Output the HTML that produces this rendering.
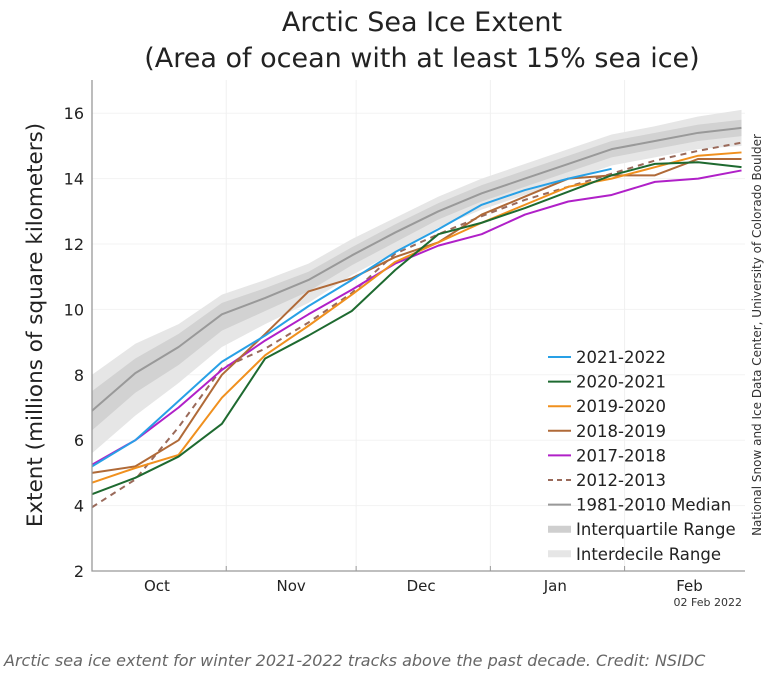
<!DOCTYPE html>
<html><head><meta charset="utf-8"><style>
body{margin:0;background:#fff;width:772px;height:669px;overflow:hidden;font-family:"DejaVu Sans",sans-serif}
</style></head><body>
<svg id="chart" width="772" height="669" xmlns="http://www.w3.org/2000/svg" style="font-family:'DejaVu Sans',sans-serif">
<text x="422" y="31" text-anchor="middle" font-size="27" fill="#222">Arctic Sea Ice Extent</text>
<text x="422" y="67" text-anchor="middle" font-size="27" fill="#222">(Area of ocean with at least 15% sea ice)</text>
<text transform="translate(42,325) rotate(-90)" text-anchor="middle" font-size="21.5" fill="#222">Extent (millions of square kilometers)</text>
<text transform="translate(761,335) rotate(-90)" text-anchor="middle" font-size="12" fill="#333">National Snow and Ice Data Center, University of Colorado Boulder</text>
<text x="742" y="606" text-anchor="end" font-size="11" fill="#333">02 Feb 2022</text>
<text x="4" y="666" font-size="16" font-style="italic" fill="#666">Arctic sea ice extent for winter 2021-2022 tracks above the past decade. Credit: NSIDC</text>
<g id="grid"></g><g id="bands"></g><g id="lines"></g><g id="axes"></g><g id="legend"></g>
</svg>
<script>
const days=[0,10,20,30,40,50,60,70,80,90,100,110,120,130,140,150];
const median=[6.9,8.05,8.85,9.85,10.35,10.9,11.65,12.35,13.0,13.55,14.0,14.45,14.9,15.15,15.4,15.55];
const decLow=[5.6,6.75,7.75,8.85,9.55,10.2,11.05,11.75,12.5,13.05,13.5,13.95,14.4,14.65,14.9,15.0];
const decHigh=[8.0,8.95,9.55,10.45,10.9,11.4,12.15,12.8,13.45,14.0,14.45,14.9,15.35,15.6,15.9,16.1];
const iqrLow=[6.3,7.45,8.3,9.35,9.95,10.55,11.35,12.05,12.75,13.3,13.75,14.2,14.65,14.9,15.15,15.3];
const iqrHigh=[7.5,8.5,9.25,10.2,10.65,11.15,11.9,12.6,13.25,13.8,14.25,14.7,15.15,15.4,15.65,15.8];
const s2122=[5.2,6.0,7.2,8.4,9.2,10.1,10.9,11.75,12.45,13.2,13.65,14.0,14.3,null,null,null];
const s2021=[4.35,4.85,5.5,6.5,8.5,9.2,9.95,11.2,12.3,12.65,13.1,13.6,14.1,14.45,14.5,14.35];
const s1920=[4.7,5.15,5.55,7.3,8.6,9.5,10.45,11.45,12.05,12.65,13.2,13.75,14.0,14.35,14.7,14.8];
const s1819=[5.0,5.2,6.0,8.0,9.25,10.55,10.95,11.6,12.05,12.9,13.45,14.0,14.1,14.1,14.6,14.6];
const s1718=[5.25,6.0,7.0,8.15,9.05,9.85,10.6,11.4,11.95,12.3,12.9,13.3,13.5,13.9,14.0,14.25];
const s1213=[3.95,4.8,6.4,8.2,8.8,9.6,10.5,11.7,12.3,12.85,13.35,13.75,14.15,14.55,14.85,15.1];
const yTicks=[2,4,6,8,10,12,14,16];
const monthLabels=["Oct","Nov","Dec","Jan","Feb"];
const monthStarts=[0,31,61,92,123];
const legendLabels=["2021-2022","2020-2021","2019-2020","2018-2019","2017-2018","2012-2013","1981-2010 Median","Interquartile Range","Interdecile Range"];
const NS="http://www.w3.org/2000/svg";
const X0=92,XPD=4.33,Y0=571,YPU=32.7;
const xs=d=>X0+d*XPD, ys=v=>Y0-(v-2)*YPU;
function mk(tag,attrs,parent){const e=document.createElementNS(NS,tag);for(const k in attrs)e.setAttribute(k,attrs[k]);parent.appendChild(e);return e;}
const grid=document.getElementById('grid'),bands=document.getElementById('bands'),lines=document.getElementById('lines'),axes=document.getElementById('axes'),legend=document.getElementById('legend');
yTicks.forEach(t=>{
 const g=mk('line',{x1:X0,x2:745,y1:ys(t),y2:ys(t),stroke:'#f3f3f3','stroke-width':1},grid);
 
 
 const tx=mk('text',{x:84,y:ys(t)+6,'text-anchor':'end','font-size':16,fill:'#222'},axes);
 tx.textContent=t;
 
 
});
monthStarts.forEach((m,i)=>{
 if(i>0){const g=mk('line',{x1:xs(m),x2:xs(m),y1:80,y2:Y0,stroke:'#f0f0f0','stroke-width':1},grid);
 
 
 const tk=mk('line',{x1:xs(m),x2:xs(m),y1:Y0,y2:Y0-5,stroke:'#999'},axes);
 
 }
 const tx=mk('text',{x:xs(m+15),y:591,'text-anchor':'middle','font-size':15,fill:'#222'},axes);
 tx.textContent=monthLabels[i];
 
 
});
const ax=mk('path',{d:`M${X0},80 V${Y0} H745`,fill:'none',stroke:'#999','stroke-width':1.3},axes);


function band(lo,hi,fill,name){
 let d='M'+days.map((x,i)=>xs(x)+','+ys(hi[i])).join(' L');
 d+=' L'+days.slice().reverse().map((x,j)=>{const i=days.length-1-j;return xs(x)+','+ys(lo[i]);}).join(' L')+'Z';
 const p=mk('path',{d:d,fill:fill},bands);
 
 
}
band(decLow,decHigh,'#e6e6e6','interdecile-band');
band(iqrLow,iqrHigh,'#d2d2d2','interquartile-band');
function line(vals,color,name,dash){
 let d='';vals.forEach((v,i)=>{if(v==null)return;d+=(d?' L':'M')+xs(days[i])+','+ys(v);});
 const p=mk('path',{d:d,fill:'none',stroke:color,'stroke-width':2,'stroke-linejoin':'round'},lines);
 if(dash)p.setAttribute('stroke-dasharray',dash);
 
 
}
line(median,'#999','median-line');
line(s1213,'#9a6a5a','series-2012-2013','6,5');
line(s1718,'#b020c8','series-2017-2018');
line(s1819,'#b06a38','series-2018-2019');
line(s1920,'#f0901e','series-2019-2020');
line(s2021,'#1e6a30','series-2020-2021');
line(s2122,'#28a0e6','series-2021-2022');
const legColors=['#28a0e6','#1e6a30','#f0901e','#b06a38','#b020c8','#9a6a5a','#999','#cfcfcf','#e6e6e6'];
legendLabels.forEach((l,i)=>{
 const y=357+i*24.6;
 const w=i>=7?7:2;
 const ln=mk('line',{x1:548,x2:571,y1:y,y2:y,stroke:legColors[i],'stroke-width':w},legend);
 if(i==5)ln.setAttribute('stroke-dasharray','5,4');
 
 
 const t=mk('text',{x:576,y:y+6,'font-size':16.5,fill:'#222'},legend);
 t.textContent=l;
 
 
});
</script>
</body></html>
